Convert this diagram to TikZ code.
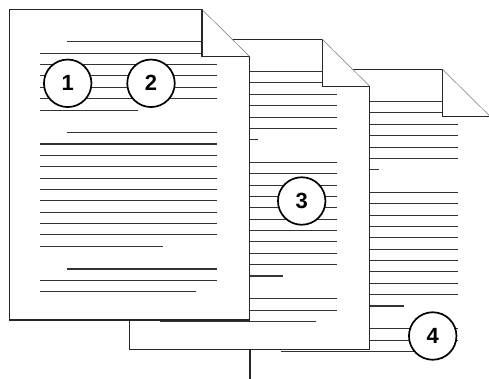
\documentclass[tikz,border=0pt]{standalone}
\usepackage{fontspec}
\setmainfont{Liberation Sans}

\tikzset{
  pageedge/.style={line width=1.1pt,black!85},
  foldedge/.style={line width=0.5pt,black!55},
  textline/.style={line width=1.1pt,black!80},
  numcircle/.style={circle,draw,fill=white,line width=1.7pt,minimum size=47.5pt,
    inner sep=0pt,font=\fontsize{22}{22}\selectfont\bfseries}
}

% one sheet of paper with its text lines, top left corner at #1
\newcommand{\docpage}[1]{%
\begin{scope}[shift={(#1)}]
\fill[white] (0,0) -- (192.5,0) -- (240,47) -- (240,310.5) -- (0,310.5) -- cycle;
\foreach \ly/\la/\lb in {32.2/57.5/207.5, 43.6/30.5/207.5, 55/30.5/207.5,
    66.4/30.5/207.5, 77.8/30.5/207.5, 89.2/30.5/207.5, 100.6/30.5/128.5,
    123.2/57.5/207.5, 134.5/30.5/207.5, 145.9/30.5/207.5, 157.2/30.5/207.5,
    168.6/30.5/207.5, 179.9/30.5/207.5, 191.3/30.5/207.5, 202.6/30.5/207.5,
    214/30.5/207.5, 225.3/30.5/207.5, 236.7/30.5/153.5,
    259.5/57.5/207.5, 270.8/30.5/207.5, 282.2/30.5/186.5}
  \draw[textline] (\la,\ly) -- (\lb,\ly);
\fill[white] (192.5,0) -- (192.5,47) -- (240,47) -- cycle;
\draw[pageedge] (192.5,0) -- (0,0) -- (0,310.5) -- (240,310.5) -- (240,47);
\draw[pageedge] (192.5,0) -- (192.5,47) -- (240,47);
\draw[foldedge] (192.5,0) -- (240,47);
\end{scope}}

\begin{document}
\begin{tikzpicture}[x=1pt,y=-1pt]
\useasboundingbox (0,0) rectangle (489,379);

% sheets, back to front
\docpage{250,69.3}
\docpage{129.8,39.3}
\docpage{9.5,9.5}

% numbered marks
\node[numcircle] (num1) at (67.7,83.3) {1};
\node[numcircle] (num2) at (151,83.3) {2};
\node[numcircle] (num3) at (301.7,201) {3};
\node[numcircle] (num4) at (432.7,336) {4};

\end{tikzpicture}
\end{document}
